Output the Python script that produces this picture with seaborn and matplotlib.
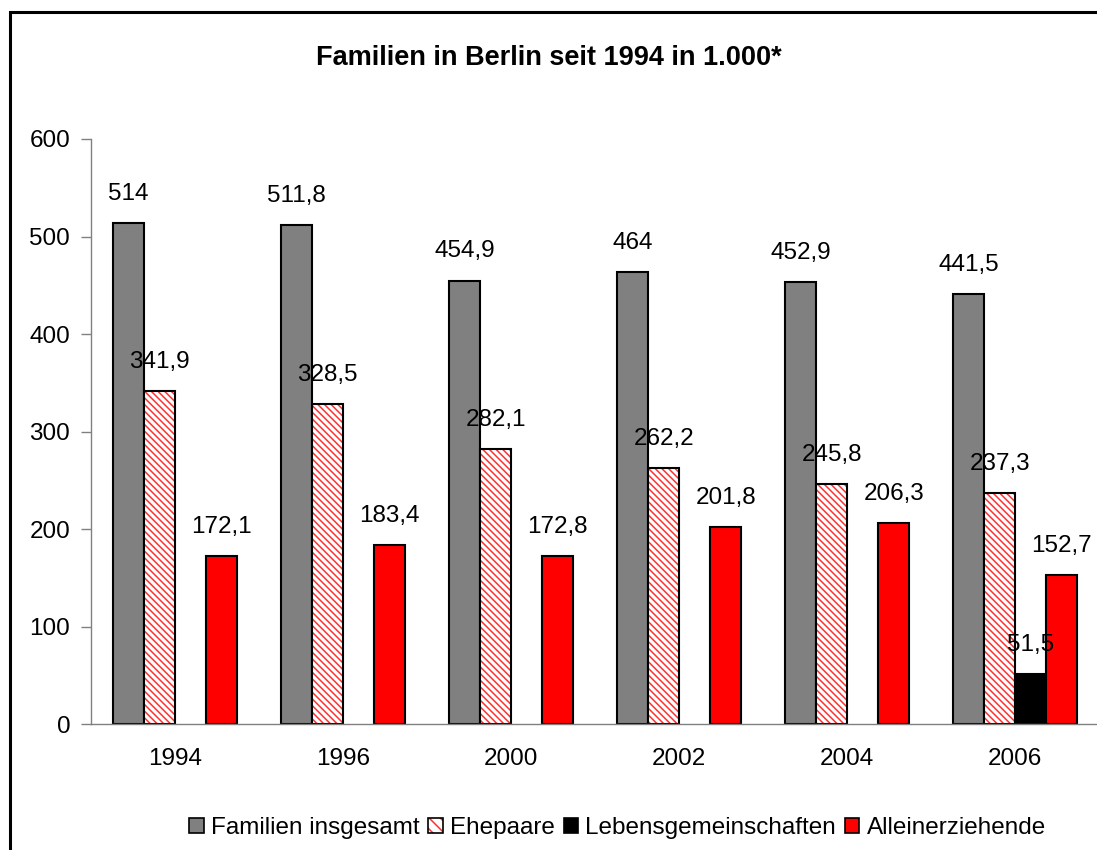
import pandas as pd
import numpy as np
import matplotlib
matplotlib.use("Agg")
import matplotlib.pyplot as plt
import seaborn as sns
from matplotlib.patches import Rectangle, Patch
from matplotlib.legend_handler import HandlerTuple

# Data (in 1.000)
years = ['1994', '1996', '2000', '2002', '2004', '2006']
series = ['Familien insgesamt', 'Ehepaare', 'Lebensgemeinschaften', 'Alleinerziehende']
familien = [514, 511.8, 454.9, 464, 452.9, 441.5]
ehepaare = [341.9, 328.5, 282.1, 262.2, 245.8, 237.3]
lebensgem = [np.nan, np.nan, np.nan, np.nan, np.nan, 51.5]
allein = [172.1, 183.4, 172.8, 201.8, 206.3, 152.7]

colors = ['#808080', '#ffffff', '#000000', '#ff0000']

rows = []
for name, vals in zip(series, [familien, ehepaare, lebensgem, allein]):
    for y, v in zip(years, vals):
        rows.append({'Jahr': y, 'Art': name, 'Wert': v})
df = pd.DataFrame(rows)

sns.set_style('white')
plt.rcParams['font.family'] = ['Liberation Sans', 'DejaVu Sans']
plt.rcParams['text.color'] = 'black'
plt.rcParams['xtick.color'] = 'black'
plt.rcParams['ytick.color'] = 'black'
plt.rcParams['hatch.linewidth'] = 1.1

HATCH = '\\' * 5
HATCH_COLOR = '#ff3030'

fig = plt.figure(figsize=(10.97, 8.5), dpi=100)
ax = fig.add_axes([0.083, 0.148, 0.919, 0.6885])

sns.barplot(data=df, x='Jahr', y='Wert', hue='Art', order=years, hue_order=series,
            palette=colors, width=0.74, edgecolor='black', linewidth=1.5,
            saturation=1, legend=False, ax=ax)

# hatched Ehepaare bars: red hatch, black outline on top
for p in ax.containers[1]:
    p.set_edgecolor(HATCH_COLOR)
    p.set_linewidth(0)
    p.set_hatch(HATCH)
    ax.add_patch(Rectangle(p.get_xy(), p.get_width(), p.get_height(), fill=False,
                           edgecolor='black', linewidth=1.5, zorder=p.get_zorder() + 0.1))

def fmt(v):
    return ('%g' % v).replace('.', ',')

for c in ax.containers:
    vals = [b.get_height() for b in c]
    ax.bar_label(c, labels=[fmt(v) for v in vals], padding=13, fontsize=17.5, color='black')

ax.set_ylim(0, 600)
ax.set_xlim(-0.5, 5.5)
ax.set_yticks(range(0, 601, 100))
ax.set_xlabel('')
ax.set_ylabel('')
ax.set_xticks(np.arange(-0.5, 6, 1), minor=True)
ax.tick_params(axis='x', which='major', length=0, labelsize=17.5, pad=17)
ax.tick_params(axis='x', which='minor', length=7, width=1, color='#808080', direction='out')
ax.tick_params(axis='y', length=7, width=1, color='#808080', labelcolor='black',
               labelsize=17.5, pad=8, left=True)
for s in ['top', 'right']:
    ax.spines[s].set_visible(False)
for s in ['left', 'bottom']:
    ax.spines[s].set_color('#808080')
    ax.spines[s].set_linewidth(1)

fig.text(0.5, 0.932, 'Familien in Berlin seit 1994 in 1.000*', ha='center', va='center',
         fontsize=19.5, fontweight='bold', color='black')

outline = Patch(facecolor='none', edgecolor='black', linewidth=1.2)
handles = [Patch(facecolor=colors[0], edgecolor='black', linewidth=1.2),
           (Patch(facecolor='white', edgecolor=HATCH_COLOR, hatch='\\' * 3, linewidth=0), outline),
           Patch(facecolor=colors[2], edgecolor='black', linewidth=1.2),
           Patch(facecolor=colors[3], edgecolor='black', linewidth=1.2)]
fig.legend(handles, series, loc='center', bbox_to_anchor=(0.563, 0.026), ncol=4,
           frameon=False, fontsize=17.5, handlelength=0.6, handleheight=0.6,
           handletextpad=0.3, columnspacing=0.35,
           handler_map={tuple: HandlerTuple(ndivide=1, pad=0)})

# chart area border
fig.patches.append(Rectangle((0.0095, -0.1), 1.1, 1.1 - 12 / 850, transform=fig.transFigure,
                             fill=False, edgecolor='black', linewidth=2.2))

fig.savefig('out.png', dpi=100)
